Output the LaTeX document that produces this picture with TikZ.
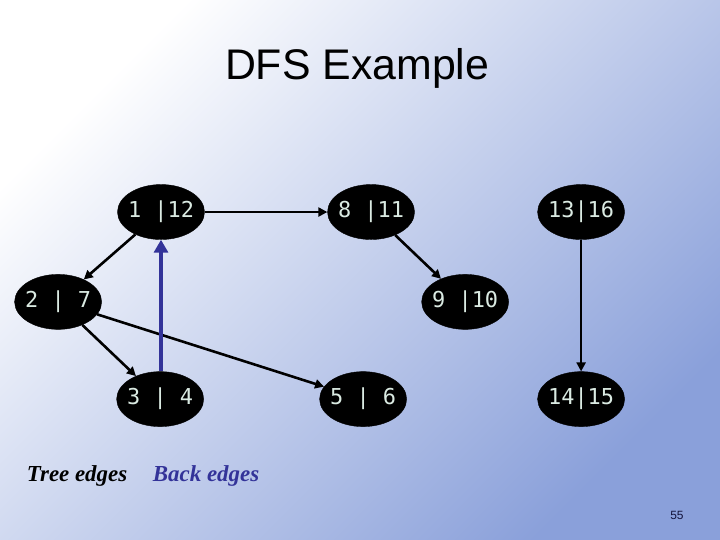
\documentclass[tikz,border=0pt]{standalone}
\usepackage{fontspec}
\setmainfont{Liberation Serif}
\setsansfont{Liberation Sans}
\setmonofont{DejaVu Sans Mono}
\usepackage{xcolor}
\usepackage{tikz}
\usetikzlibrary{
    arrows.meta,
    positioning,
    shapes.geometric
}
\definecolor{bgblue}{RGB}{138,160,218}
\definecolor{bgmid}{RGB}{205,213,238}
\definecolor{backblue}{RGB}{51,51,153}
\definecolor{vtext}{RGB}{218,234,226}
\definecolor{pgnum}{RGB}{20,20,60}

\begin{document}
\begin{tikzpicture}[
    vertex/.style={ellipse, fill=black, draw=black, minimum width=3.07cm,
                   minimum height=1.94cm, inner xsep=-2.3pt, inner ysep=0pt,
                   text=vtext, font=\ttfamily\fontsize{22}{22}\selectfont},
    treeedge/.style={line width=2.6pt, -{Triangle[length=9pt,width=9pt]}},
    backedge/.style={line width=4pt, draw=backblue,
                     -{Triangle[length=13pt,width=14pt]}},
    legend/.style={font=\bfseries\itshape\fontsize{23}{23}\selectfont}
  ]
  % background
  \shade[top color=white, middle color=bgmid, bottom color=bgblue,
         shading angle=45] (0,0) rectangle (25.4,19.05);
  \useasboundingbox (0,0) rectangle (25.4,19.05);

  \node[font=\sffamily\fontsize{43}{43}\selectfont] (title) at (12.60,16.65) {DFS Example};

  % vertices: discovery | finish
  \node[vertex] (v1)  at (5.68,11.57)  {1 |12};
  \node[vertex] (v8)  at (13.09,11.57) {8 |11};
  \node[vertex] (v13) at (20.50,11.57) {13|16};
  \node[vertex] (v2)  at (2.05,8.40)   {2 | 7};
  \node[vertex] (v9)  at (16.41,8.40)  {9 |10};
  \node[vertex] (v3)  at (5.65,4.97)   {3 | 4};
  \node[vertex] (v5)  at (12.81,4.97)  {5 | 6};
  \node[vertex] (v14) at (20.50,4.97)  {14|15};

  % tree edges
  \draw[treeedge] (v1) -- (v8);
  \draw[treeedge] (v1) -- (v2);
  \draw[treeedge] (v2) -- (v3);
  \draw[treeedge] (v2) -- (v5);
  \draw[treeedge] (v8) -- (v9);
  \draw[treeedge] (v13) -- (v14);

  % back edge
  \draw[backedge] (v3.north -| v1.south) -- (v1.south);

  % legend
  \node[legend] (tree) at (2.72,2.26) {Tree edges};
  \node[legend, text=backblue] (back) at (7.27,2.26) {Back edges};
  \node[font=\sffamily\fontsize{12}{12}\selectfont, text=pgnum] (page) at (23.88,0.88) {55};
\end{tikzpicture}
\end{document}
